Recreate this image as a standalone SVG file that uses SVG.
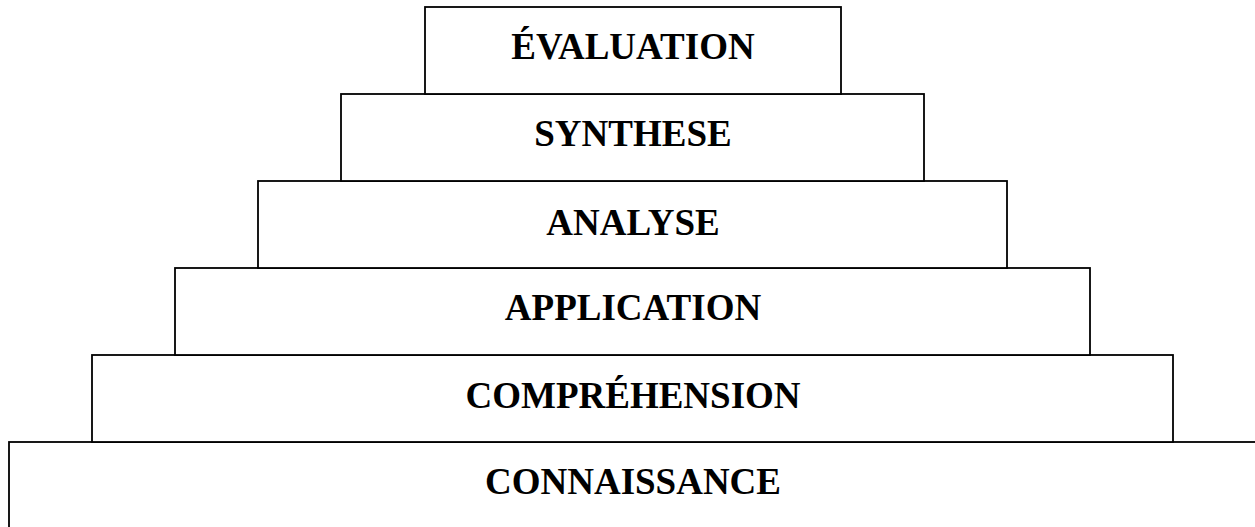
<svg xmlns="http://www.w3.org/2000/svg" width="1255" height="527" viewBox="0 0 1255 527">
<style>
.box{fill:#fff;stroke:#000;stroke-width:1.8}
.lbl{font-family:"Liberation Serif","Times New Roman",serif;font-weight:bold;font-size:37px;fill:#000;text-anchor:middle}
</style>
<rect width="1255" height="527" fill="#fff"/>
<g id="connaissance"><rect class="box" x="9" y="442" width="1270" height="110"/><text class="lbl" x="633" y="494">CONNAISSANCE</text></g>
<g id="comprehension"><rect class="box" x="92" y="355" width="1081" height="87"/><text class="lbl" x="633" y="408">COMPRÉHENSION</text></g>
<g id="application"><rect class="box" x="175" y="268" width="915" height="87"/><text class="lbl" x="633" y="320">APPLICATION</text></g>
<g id="analyse"><rect class="box" x="258" y="181" width="749" height="87"/><text class="lbl" x="633" y="235">ANALYSE</text></g>
<g id="synthese"><rect class="box" x="341" y="94" width="583" height="87"/><text class="lbl" x="633" y="146">SYNTHESE</text></g>
<g id="evaluation"><rect class="box" x="425" y="7" width="416" height="87"/><text class="lbl" x="633" y="59">ÉVALUATION</text></g>
<g id="connectors"></g>
</svg>
